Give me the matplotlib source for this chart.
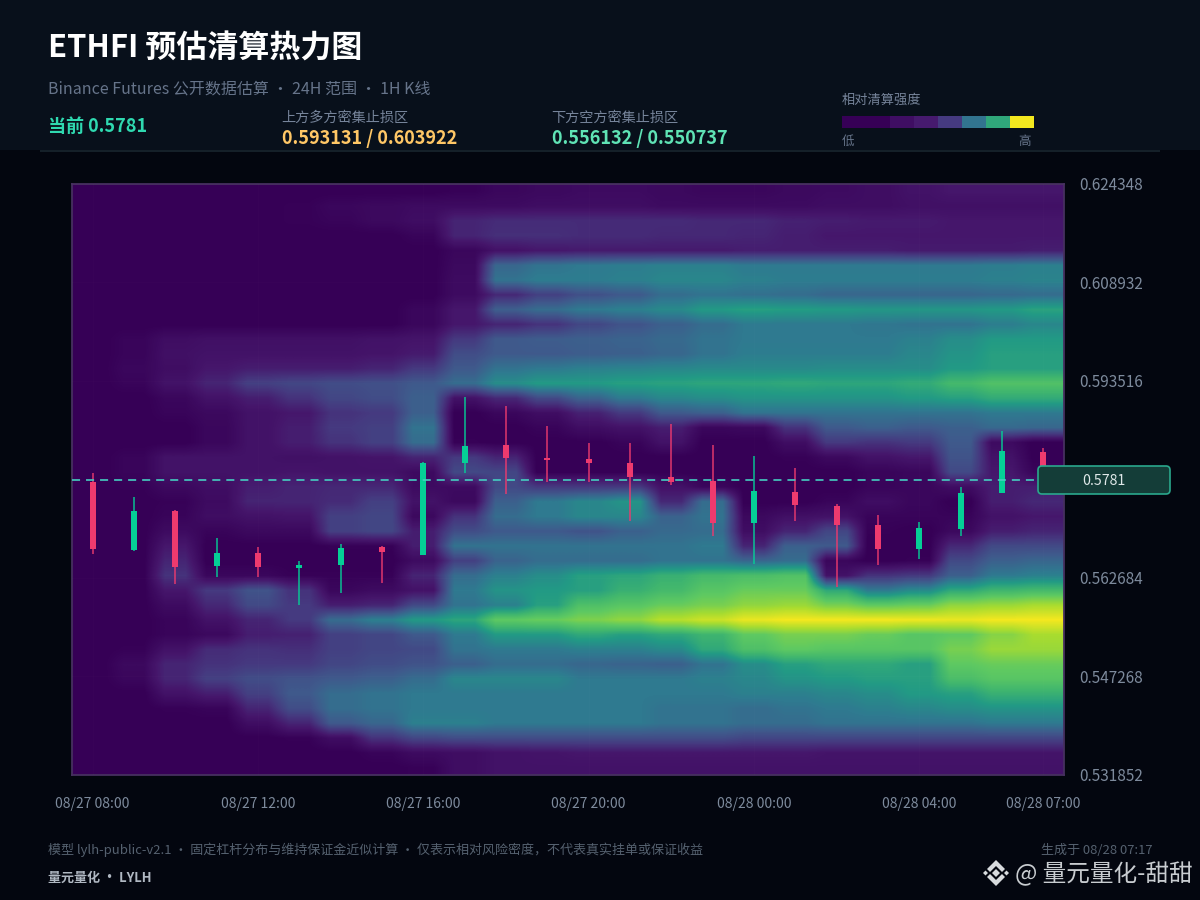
import numpy as np
import matplotlib
matplotlib.use('Agg')
import matplotlib.pyplot as plt
from matplotlib.colors import LinearSegmentedColormap
from matplotlib.patches import FancyBboxPatch, Polygon, Rectangle

plt.rcParams['font.family'] = ['Noto Sans CJK SC', 'DejaVu Sans']
plt.rcParams['lines.scale_dashes'] = False

# 1H candles, prices
opens = [0.57771, 0.56707, 0.57317, 0.56456, 0.56652, 0.56425, 0.56474, 0.56754,
         0.56628, 0.58068, 0.58350, 0.58146, 0.58131, 0.58068, 0.57849, 0.57787,
         0.57135, 0.57614, 0.57395, 0.57098, 0.56722, 0.57035, 0.57599, 0.58240]
closes = [0.56722, 0.57317, 0.56440, 0.56660, 0.56440, 0.56472, 0.56738, 0.56675,
          0.58068, 0.58334, 0.58146, 0.58115, 0.58068, 0.57849, 0.57771, 0.57129,
          0.57630, 0.57411, 0.57098, 0.56722, 0.57051, 0.57599, 0.58256, 0.57810]
highs = [0.57912, 0.57536, 0.57325, 0.56894, 0.56754, 0.56534, 0.56800, 0.56769,
         0.58084, 0.59101, 0.58960, 0.58647, 0.58381, 0.58381, 0.58679, 0.58350,
         0.58178, 0.57990, 0.57427, 0.57254, 0.57145, 0.57693, 0.58569, 0.58303]
lows = [0.56644, 0.56691, 0.56174, 0.56284, 0.56284, 0.55846, 0.56034, 0.56190,
        0.56628, 0.57912, 0.57583, 0.57771, 0.57771, 0.57160, 0.57724, 0.56926,
        0.56487, 0.57160, 0.56127, 0.56472, 0.56566, 0.56926, 0.57599, 0.57700]

current_price = 0.5781
price_ticks = [0.624348, 0.608932, 0.593516, 0.562684, 0.547268, 0.531852]
price_top = 0.624348
price_bottom = 0.531852
time_tick_idx = [0, 4, 8, 12, 16, 20, 23]
time_labels = ['08/27 08:00', '08/27 12:00', '08/27 16:00', '08/27 20:00',
               '08/28 00:00', '08/28 04:00', '08/28 07:00']

# relative intensity 0-100, one row per price level (top to bottom), one column per candle
heat_rows = [
    [0,0,0,0,0,0,0,0,0,1,3,4,5,5,4,3,3,4,5,6,8,10,10,10],
    [0,0,0,0,0,1,3,4,5,5,5,6,6,6,5,5,5,5,6,6,7,7,7,7],
    [0,0,0,0,0,1,2,4,6,14,16,16,16,16,16,15,15,13,12,11,11,10,10,10],
    [0,0,0,0,0,0,0,0,2,14,17,17,16,16,15,15,14,12,10,10,10,10,10,10],
    [0,0,0,0,0,0,0,0,0,3,8,10,11,11,11,11,12,12,12,12,11,11,11,12],
    [0,0,0,0,0,0,0,0,0,4,34,38,40,41,42,42,40,40,40,40,40,40,41,42],
    [0,0,0,0,0,0,0,0,0,5,38,41,41,42,44,44,42,41,41,41,41,41,42,43],
    [0,0,0,0,0,0,0,0,0,5,15,22,27,30,36,38,37,36,34,34,34,34,35,36],
    [0,0,0,0,0,0,0,0,3,10,32,36,40,42,45,50,52,51,50,49,49,49,50,53],
    [0,0,0,0,0,0,0,0,3,10,14,18,24,28,32,36,40,40,40,39,38,38,41,44],
    [0,2,6,7,7,7,7,8,9,20,30,31,32,33,35,38,40,40,40,40,42,46,50,50],
    [0,2,7,8,8,8,8,9,11,26,30,30,31,32,34,38,41,41,41,41,44,48,52,52],
    [0,3,6,10,12,12,12,14,20,30,38,40,42,43,44,45,45,45,46,46,46,50,52,52],
    [0,2,8,14,22,24,26,27,30,36,46,50,50,52,53,54,54,55,54,54,56,62,66,66],
    [0,0,3,8,12,18,24,26,32,8,15,25,33,40,44,46,48,48,48,48,50,52,56,56],
    [0,0,2,4,8,10,18,20,32,0,3,6,13,20,30,32,38,38,38,38,38,38,40,40],
    [0,0,0,3,8,12,20,22,38,0,0,2,6,8,12,3,4,18,30,32,30,32,35,34],
    [0,0,0,3,8,12,18,22,36,1,0,0,0,2,8,0,0,6,20,18,20,30,5,0],
    [0,2,8,8,8,7,8,9,14,20,14,0,0,0,0,0,0,1,4,8,10,28,8,0],
    [0,2,8,8,8,9,8,8,5,25,24,0,0,0,0,0,0,0,0,2,3,25,10,2],
    [0,1,4,6,12,14,15,15,5,5,25,20,20,20,8,3,0,0,0,2,3,6,12,12],
    [0,0,1,5,14,14,16,22,8,4,32,40,44,48,15,36,0,0,2,6,3,0,12,15],
    [0,0,2,6,8,9,22,24,4,18,36,40,44,44,33,38,4,7,8,2,2,2,8,10],
    [0,0,5,2,4,4,22,24,12,26,30,30,28,32,35,36,6,14,24,1,0,4,12,14],
    [0,0,10,0,0,0,1,1,12,38,38,38,38,38,38,40,14,32,30,0,0,15,25,25],
    [0,0,14,0,0,0,0,0,5,22,33,36,36,36,38,38,34,36,3,0,1,25,32,34],
    [0,0,18,3,3,1,1,1,14,36,42,46,52,54,58,62,64,66,8,18,20,32,40,42],
    [0,0,10,20,28,18,3,5,8,40,48,50,52,58,62,68,72,72,55,40,45,55,60,62],
    [0,0,5,15,25,20,12,14,25,38,42,52,65,68,72,75,80,82,75,70,72,80,82,85],
    [0,0,2,8,14,20,36,42,50,54,70,72,76,80,88,92,98,100,100,100,99,98,100,100],
    [0,0,2,4,12,13,22,24,30,40,50,50,55,52,55,60,70,75,75,72,68,70,78,85],
    [0,1,8,16,18,17,22,24,25,38,40,40,42,42,45,55,65,70,68,68,68,75,82,82],
    [0,4,14,18,20,20,24,26,28,32,36,36,34,33,32,38,46,52,55,55,52,70,72,72],
    [0,3,14,22,26,28,30,32,36,44,44,44,40,40,40,42,44,48,50,52,52,64,68,68],
    [0,0,8,12,22,30,36,38,40,40,40,40,40,40,40,40,42,42,44,46,50,52,58,58],
    [0,0,1,2,14,26,36,38,40,40,40,40,40,40,38,38,36,38,40,42,44,46,48,48],
    [0,0,0,0,6,14,30,34,42,42,40,40,40,40,38,38,36,36,38,38,38,38,40,40],
    [0,0,0,0,0,1,6,18,24,26,26,26,26,26,26,26,24,24,24,24,24,24,24,24],
    [0,0,0,0,0,0,0,2,5,6,8,9,10,10,10,10,10,10,9,9,9,9,9,9],
    [0,0,0,0,0,0,0,0,1,6,8,8,8,8,8,8,8,8,8,8,8,8,8,8],
]
legend_levels = [0, 0, 6, 11, 20, 38, 55, 100]

BG = '#03060f'
HEADER = '#08101b'
UP = '#05cf96'
DOWN = '#ee3a6e'

heat_cmap = LinearSegmentedColormap.from_list('heat', [
    (0.00, '#360056'), (0.10, '#46176c'), (0.20, '#453a80'), (0.30, '#3f5a8c'),
    (0.40, '#2f7a90'), (0.50, '#229a85'), (0.60, '#3fb56f'), (0.70, '#5ec962'),
    (0.85, '#a8dc30'), (1.00, '#f3e81f')])

fig = plt.figure(figsize=(12, 9), dpi=100, facecolor=BG)

# overlay in pixel coordinates, for the header, footer and price tag
over = fig.add_axes([0, 0, 1, 1], zorder=5)
over.set_xlim(0, 1200)
over.set_ylim(900, 0)
over.axis('off')
over.patch.set_alpha(0)

ax = fig.add_axes([72/1200, 1-775/900, 992/1200, 591/900], zorder=1)
# doubling the columns keeps the pocket edges tighter than plain bilinear
heat = np.repeat(np.array(heat_rows)/100.0, 2, axis=1)
ax.imshow(heat, cmap=heat_cmap, vmin=0, vmax=1, aspect='auto',
          interpolation='bilinear', origin='upper',
          extent=(-0.5, 23.5, price_bottom, price_top))

x = np.arange(len(opens))
colors = [UP if c >= o else DOWN for o, c in zip(opens, closes)]
ax.vlines(x, lows, highs, colors=colors, lw=1.2, alpha=0.85, zorder=3)
ax.bar(x, np.abs(np.array(closes)-np.array(opens)), bottom=np.minimum(opens, closes),
       width=0.15, color=colors, zorder=4)
ax.axhline(current_price, color='#45cdc0', lw=1.2, dashes=(5.8, 4.3), zorder=5)

ax.set_xlim(-0.5, 23.5)
ax.set_ylim(price_bottom, price_top)
ax.set_xticks(time_tick_idx)
ax.set_xticklabels(time_labels)
ax.set_yticks(price_ticks)
ax.set_yticklabels(['%.6f' % p for p in price_ticks])
ax.yaxis.tick_right()
ax.tick_params(axis='both', length=0, colors='#7d8a9c')
ax.tick_params(axis='x', pad=16, labelsize=10)
ax.tick_params(axis='y', pad=11, labelsize=11)
ax.grid(True, color='#ffffff', alpha=0.012, lw=0.7)
ax.set_axisbelow(False)
for s in ax.spines.values():
    s.set_color('#46305f')
    s.set_linewidth(1.3)

# header
over.add_patch(Rectangle((0, 0), 1200, 150, fc=HEADER, ec='none', zorder=0))
over.add_patch(Rectangle((40, 150), 1120, 2, fc='#152029', ec='none', zorder=1))

def label(px, py, s, size, color, weight='normal', ha='left'):
    over.text(px, py, s, fontsize=size, color=color, fontweight=weight, ha=ha, va='center')

label(48, 49, 'ETHFI 预估清算热力图', 22.3, '#ffffff', 'bold')
label(48, 89, 'Binance Futures 公开数据估算 · 24H 范围 · 1H K线', 11.5, '#66748a')
label(48, 126, '当前 0.5781', 13, '#2fd9b0', 'bold')
label(281.5, 118, '上方多方密集止损区', 10.2, '#76849a')
label(282, 139, '0.593131 / 0.603922', 13, '#ffc766', 'bold')
label(551.5, 118, '下方空方密集止损区', 10.2, '#76849a')
label(552, 139, '0.556132 / 0.550737', 13, '#5fe3b5', 'bold')

# legend strip
label(842, 100, '相对清算强度', 9.5, '#76849a')
for i, lev in enumerate(legend_levels):
    over.add_patch(Rectangle((842+24*i, 116), 24, 12, fc=heat_cmap(lev/100.0), ec='none'))
label(842, 141, '低', 9, '#66748a')
label(1018, 141, '高', 9, '#66748a')

# price tag
over.add_patch(FancyBboxPatch((1041, 469), 126, 22, boxstyle='round,pad=3,rounding_size=4',
                              fc='#143d38', ec='#2aa88d', lw=1.2, zorder=6))
over.text(1104, 481, '0.5781', fontsize=10.2, color='#dfe8e8', ha='center', va='center', zorder=7)

# footer
label(48, 850, '模型 lylh-public-v2.1 · 固定杠杆分布与维持保证金近似计算 · 仅表示相对风险密度，不代表真实挂单或保证收益', 9.4, '#55616f')
label(48, 878, '量元量化 · LYLH', 9.4, '#b0b8c2', 'bold')
label(1041, 850, '生成于 08/28 07:17', 9.4, '#55616f')
label(1015, 874, '@ 量元量化-甜甜', 17, '#c8ccd0')

# exchange logo next to the watermark
logo = '#d8dbde'
cx, cy = 996, 873
for pts in [[(-9, -4), (0, -13), (9, -4), (6, -1), (0, -7), (-6, -1)],
            [(-9, 4), (0, 13), (9, 4), (6, 1), (0, 7), (-6, 1)],
            [(-13, 0), (-10.5, -2.5), (-8, 0), (-10.5, 2.5)],
            [(13, 0), (10.5, -2.5), (8, 0), (10.5, 2.5)],
            [(-4, 0), (0, -4), (4, 0), (0, 4)]]:
    over.add_patch(Polygon([(cx+a, cy+b) for a, b in pts], fc=logo, ec='none'))

fig.savefig('out.png', dpi=100, facecolor=BG)
